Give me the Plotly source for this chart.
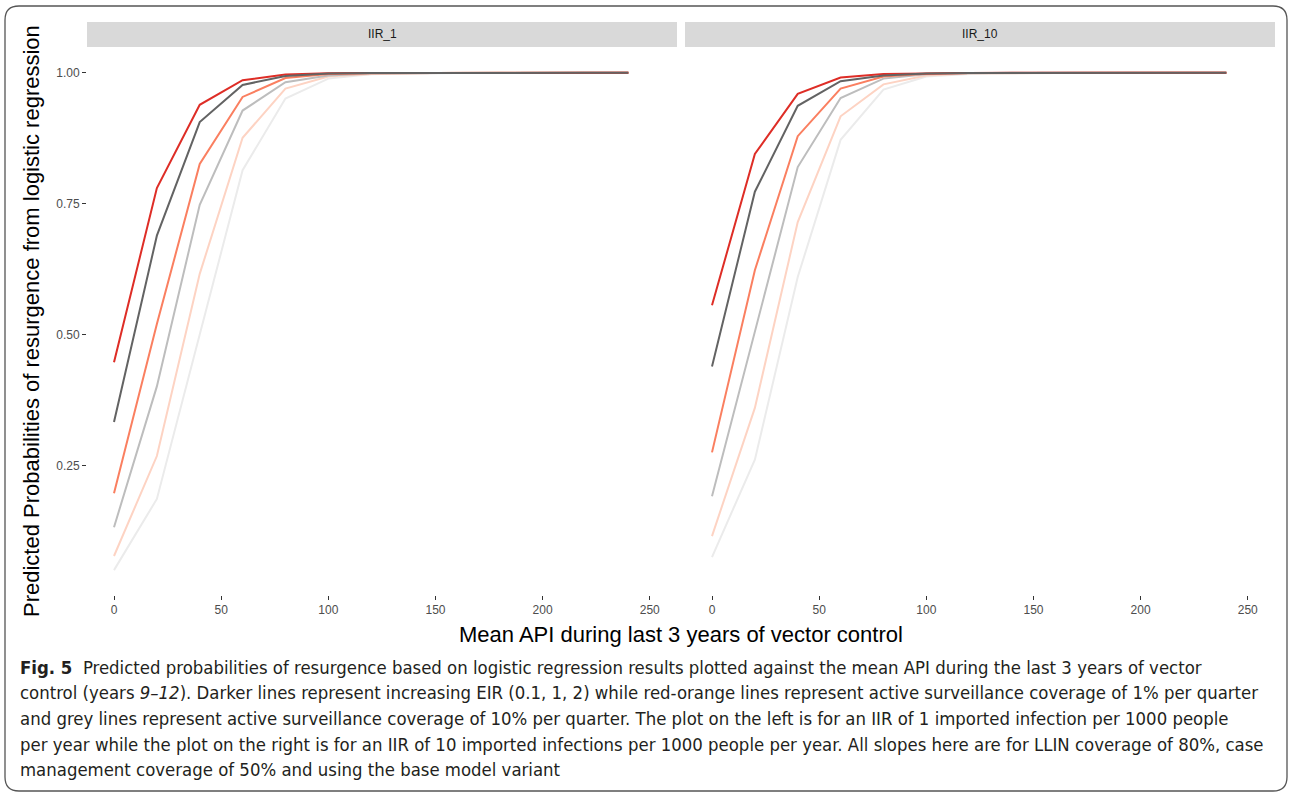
import plotly.graph_objects as go

W, H = 1290, 794

# ---------------- data ----------------
api = [0, 20, 40, 60, 80, 100, 120, 140, 160, 180, 200, 220, 240]
panels = ["IIR_1", "IIR_10"]
series_names = ["EIR 0.1, AS 10%", "EIR 0.1, AS 1%", "EIR 1, AS 10%",
                "EIR 1, AS 1%", "EIR 2, AS 1%", "EIR 2, AS 10%"]
series_colors = ["#EBEBEB", "#FDD3C3", "#BDBDBD", "#FA7F60", "#DE2D26", "#636363"]

iir1_vlight = [0.050, 0.186, 0.500, 0.814, 0.951, 0.989, 0.9975, 0.9995, 1, 1, 1, 1, 1]
iir1_peach  = [0.077, 0.268, 0.616, 0.876, 0.970, 0.993, 0.998, 0.9997, 1, 1, 1, 1, 1]
iir1_lgrey  = [0.132, 0.401, 0.748, 0.928, 0.982, 0.995, 0.999, 0.9998, 1, 1, 1, 1, 1]
iir1_orange = [0.197, 0.520, 0.826, 0.954, 0.990, 0.998, 0.9995, 1, 1, 1, 1, 1, 1]
iir1_dark   = [0.333, 0.689, 0.906, 0.977, 0.994, 0.9986, 0.9997, 1, 1, 1, 1, 1, 1]
iir1_red    = [0.447, 0.780, 0.939, 0.986, 0.997, 0.9993, 0.9999, 1, 1, 1, 1, 1, 1]

iir10_vlight = [0.075, 0.261, 0.610, 0.872, 0.968, 0.993, 0.998, 0.9996, 1, 1, 1, 1, 1]
iir10_peach  = [0.115, 0.360, 0.715, 0.917, 0.978, 0.995, 0.999, 0.9998, 1, 1, 1, 1, 1]
iir10_lgrey  = [0.191, 0.507, 0.820, 0.952, 0.989, 0.9975, 0.9995, 1, 1, 1, 1, 1, 1]
iir10_orange = [0.275, 0.623, 0.879, 0.970, 0.993, 0.9985, 0.9997, 1, 1, 1, 1, 1, 1]
iir10_dark   = [0.439, 0.773, 0.937, 0.984, 0.995, 0.999, 0.9998, 1, 1, 1, 1, 1, 1]
iir10_red    = [0.556, 0.845, 0.960, 0.991, 0.998, 0.9995, 0.9999, 1, 1, 1, 1, 1, 1]

panel_series = [
    [iir1_vlight, iir1_peach, iir1_lgrey, iir1_orange, iir1_red, iir1_dark],
    [iir10_vlight, iir10_peach, iir10_lgrey, iir10_orange, iir10_red, iir10_dark],
]

x_ticks = [0, 50, 100, 150, 200, 250]
y_ticks = [0.25, 0.50, 0.75, 1.00]
y_ticklabels = ["0.25", "0.50", "0.75", "1.00"]

y_title = "Predicted Probabilities of resurgence from logistic regression"
x_title = "Mean API during last 3 years of vector control"
caption_lines = [
    "<b>Fig. 5</b>  Predicted probabilities of resurgence based on logistic regression results plotted against the mean API during the last 3 years of vector",
    "control (years <i>9–12</i>). Darker lines represent increasing EIR (0.1, 1, 2) while red-orange lines represent active surveillance coverage of 1% per quarter",
    "and grey lines represent active surveillance coverage of 10% per quarter. The plot on the left is for an IIR of 1 imported infection per 1000 people",
    "per year while the plot on the right is for an IIR of 10 imported infections per 1000 people per year. All slopes here are for LLIN coverage of 80%, case",
    "management coverage of 50% and using the base model variant",
]

# ---------------- layout helpers (pixel -> paper) ----------------
def px(x):
    return x / W

def py(y):
    return 1 - y / H

panel_x = [(87, 677), (685, 1275)]
strip_y = (22, 47)
plot_y = (48, 595)

fig = go.Figure()

for p, series in enumerate(panel_series):
    xa = "x" if p == 0 else "x2"
    ya = "y" if p == 0 else "y2"
    for name, col, vals in zip(series_names, series_colors, series):
        fig.add_trace(go.Scatter(
            x=api, y=vals, mode="lines", name=name, showlegend=False,
            line=dict(color=col, width=2), xaxis=xa, yaxis=ya,
        ))

axis_font = dict(family="Liberation Sans, Arial, sans-serif", size=12, color="#4D4D4D")
common_x = dict(range=[-12.6, 262.7], tickvals=x_ticks, ticks="outside", ticklen=4,
                tickwidth=1, tickcolor="#333333", showgrid=False, zeroline=False,
                showline=False, tickfont=axis_font, fixedrange=True)
common_y = dict(range=[0.0025, 1.0475], tickvals=y_ticks, showgrid=False, zeroline=False,
                showline=False, fixedrange=True, domain=[py(plot_y[1]), py(plot_y[0])])

fig.update_layout(
    width=W, height=H,
    margin=dict(l=0, r=0, t=0, b=0),
    paper_bgcolor="white", plot_bgcolor="white",
    xaxis=dict(domain=[px(panel_x[0][0]), px(panel_x[0][1])], anchor="y", **common_x),
    xaxis2=dict(domain=[px(panel_x[1][0]), px(panel_x[1][1])], anchor="y2", **common_x),
    yaxis=dict(anchor="x", ticktext=y_ticklabels, ticks="outside", ticklen=4, tickwidth=1,
               tickcolor="#333333", tickfont=axis_font, **common_y),
    yaxis2=dict(anchor="x2", matches="y", showticklabels=False, ticks="", **common_y),
    showlegend=False,
)

shapes = []
annotations = []

# facet strips
for (x0, x1), label in zip(panel_x, panels):
    shapes.append(dict(type="rect", xref="paper", yref="paper",
                       x0=px(x0), x1=px(x1), y0=py(strip_y[1]), y1=py(strip_y[0]),
                       fillcolor="#D9D9D9", line=dict(width=0), layer="below"))
    annotations.append(dict(xref="paper", yref="paper", x=px((x0 + x1) / 2),
                            y=py((strip_y[0] + strip_y[1]) / 2), text=label,
                            showarrow=False, xanchor="center", yanchor="middle",
                            font=dict(family="Liberation Sans, Arial, sans-serif",
                                      size=12, color="#1A1A1A")))

# axis titles
annotations.append(dict(xref="paper", yref="paper", x=px(31), y=py(321),
                        text=y_title, textangle=-90, showarrow=False,
                        xanchor="center", yanchor="middle",
                        font=dict(family="Liberation Sans, Arial, sans-serif", size=22, color="black")))
annotations.append(dict(xref="paper", yref="paper", x=px((panel_x[0][0] + panel_x[1][1]) / 2),
                        y=py(634), text=x_title, showarrow=False,
                        xanchor="center", yanchor="middle",
                        font=dict(family="Liberation Sans, Arial, sans-serif", size=22, color="black")))

# caption
cap_y = [667, 692, 718, 744, 769]
for yy, line in zip(cap_y, caption_lines):
    annotations.append(dict(xref="paper", yref="paper", x=px(18), y=py(yy), text=line,
                            showarrow=False, xanchor="left", yanchor="middle",
                            font=dict(family="Liberation Sans Narrow, Arial Narrow, DejaVu Sans Condensed, sans-serif",
                                      size=18.4, color="#231F20")))

# rounded outer border
x0b, x1b, y0b, y1b, r = 5, 1287, 6, 791, 14
path = (f"M {px(x0b + r)},{py(y0b)} L {px(x1b - r)},{py(y0b)} "
        f"Q {px(x1b)},{py(y0b)} {px(x1b)},{py(y0b + r)} "
        f"L {px(x1b)},{py(y1b - r)} Q {px(x1b)},{py(y1b)} {px(x1b - r)},{py(y1b)} "
        f"L {px(x0b + r)},{py(y1b)} Q {px(x0b)},{py(y1b)} {px(x0b)},{py(y1b - r)} "
        f"L {px(x0b)},{py(y0b + r)} Q {px(x0b)},{py(y0b)} {px(x0b + r)},{py(y0b)} Z")
shapes.append(dict(type="path", xref="paper", yref="paper", path=path,
                   line=dict(color="#555555", width=1.3), layer="below"))

fig.update_layout(shapes=shapes, annotations=annotations)
fig.write_html("out.html")
